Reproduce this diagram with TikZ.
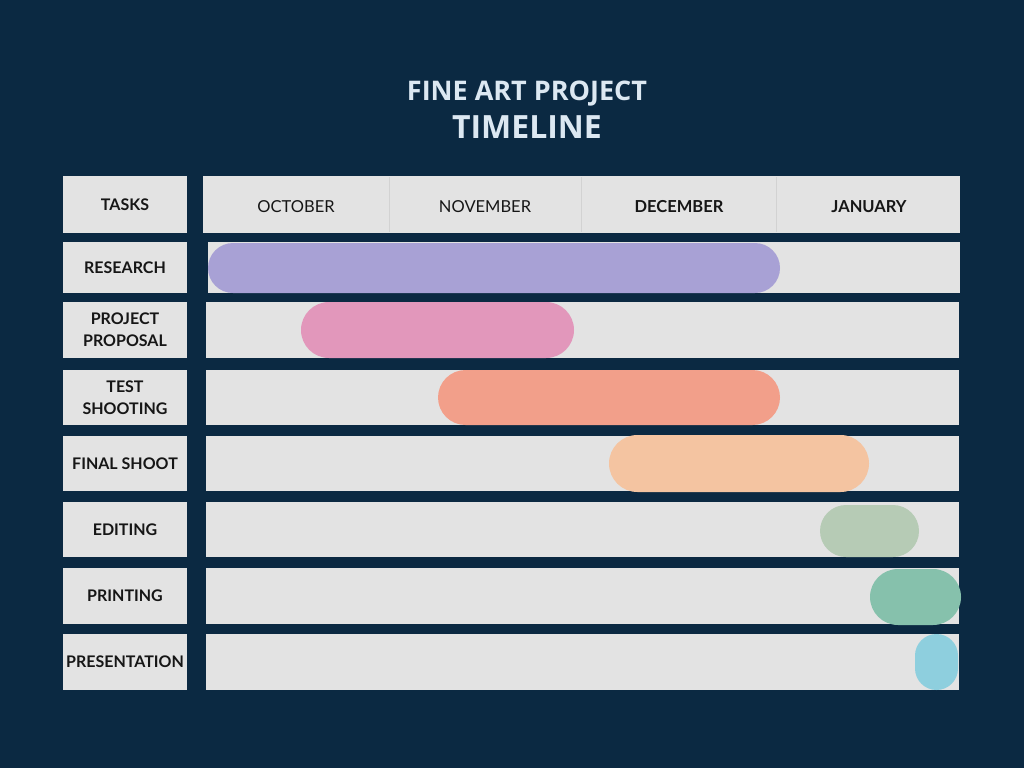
\documentclass[tikz,border=0pt]{standalone}
\usepackage{fontspec}
\setmainfont{Lato}
\newfontfamily\titlefont{Open Sans}
\definecolor{bgc}{HTML}{0B2942}
\definecolor{cellc}{HTML}{E3E3E3}
\definecolor{divc}{HTML}{D2D2D2}
\definecolor{txtc}{HTML}{161616}
\definecolor{titlec}{HTML}{DCE8F2}
\definecolor{cpurple}{HTML}{A8A1D5}
\definecolor{cpink}{HTML}{E297BB}
\definecolor{csalmon}{HTML}{F29F8A}
\definecolor{cpeach}{HTML}{F4C4A1}
\definecolor{csage}{HTML}{B6CBB5}
\definecolor{cgreen}{HTML}{86C1AC}
\definecolor{cblue}{HTML}{8ECFDE}
\tikzset{
  cell/.style={fill=cellc, inner sep=0pt, outer sep=0pt, text=txtc, align=center,
    font=\fontsize{16}{22}\selectfont\bfseries},
  pill/.style={inner sep=0pt, outer sep=0pt},
  month/.style={text=txtc, font=\fontsize{16.5}{19}\selectfont},
  divider/.style={draw=divc, line width=0.8pt}
}
\begin{document}
\begin{tikzpicture}[x=1pt,y=-1pt]
\fill[bgc] (0,0) rectangle (1024,768);
\useasboundingbox (0,0) rectangle (1024,768);
% title
\node[text=titlec, font=\titlefont\fontsize{27}{32}\selectfont\bfseries] (title1) at (527,94) {FINE ART PROJECT};
\node[text=titlec, font=\titlefont\fontsize{32}{36}\selectfont\bfseries] (title2) at (527,127) {TIMELINE};
% task column
\node[cell, minimum width=124, minimum height=57] (tasks) at (125,204.5) {TASKS};
\node[cell, minimum width=124, minimum height=51] (t1) at (125,267.5) {RESEARCH};
\node[cell, minimum width=124, minimum height=56] (t2) at (125,330) {PROJECT\\PROPOSAL};
\node[cell, minimum width=124, minimum height=55] (t3) at (125,397.5) {TEST\\SHOOTING};
\node[cell, minimum width=124, minimum height=55] (t4) at (125,463.5) {FINAL SHOOT};
\node[cell, minimum width=124, minimum height=55] (t5) at (125,529.5) {EDITING};
\node[cell, minimum width=124, minimum height=56] (t6) at (125,596) {PRINTING};
\node[cell, minimum width=124, minimum height=56] (t7) at (125,662) {PRESENTATION};
% header
\node[cell, minimum width=757, minimum height=57] (hdr) at (581.5,204.5) {};
\draw[divider] (389,177) -- (389,232);
\draw[divider] (581,177) -- (581,232);
\draw[divider] (776,177) -- (776,232);
\node[month] (m1) at (296,206.5) {OCTOBER};
\node[month] (m2) at (485,206.5) {NOVEMBER};
\node[month, font=\fontsize{16.5}{19}\selectfont\bfseries] (m3) at (679,206.5) {DECEMBER};
\node[month, font=\fontsize{16.5}{19}\selectfont\bfseries] (m4) at (869,206.5) {JANUARY};
% row bars
\node[cell, minimum width=752, minimum height=51] (r1) at (584,267.5) {};
\node[cell, minimum width=753, minimum height=56] (r2) at (582.5,330) {};
\node[cell, minimum width=753, minimum height=55] (r3) at (582.5,397.5) {};
\node[cell, minimum width=753, minimum height=55] (r4) at (582.5,463.5) {};
\node[cell, minimum width=753, minimum height=55] (r5) at (582.5,529.5) {};
\node[cell, minimum width=753, minimum height=56] (r6) at (582.5,596) {};
\node[cell, minimum width=753, minimum height=56] (r7) at (582.5,662) {};
% pills
\node[pill, fill=cpurple, minimum width=572, minimum height=50, rounded corners=25] (p1) at (494,268) {};
\node[pill, fill=cpink, minimum width=273, minimum height=56, rounded corners=28] (p2) at (437.5,330) {};
\node[pill, fill=csalmon, minimum width=342, minimum height=55, rounded corners=27.5] (p3) at (609,397.5) {};
\node[pill, fill=cpeach, minimum width=260, minimum height=57, rounded corners=28.5] (p4) at (739,463.5) {};
\node[pill, fill=csage, minimum width=99, minimum height=52, rounded corners=26] (p5) at (869.5,531) {};
\node[pill, fill=cgreen, minimum width=91, minimum height=56, rounded corners=28] (p6) at (915.5,597) {};
\node[pill, fill=cblue, minimum width=43, minimum height=56, rounded corners=21.5] (p7) at (936.5,662) {};
\end{tikzpicture}
\end{document}
